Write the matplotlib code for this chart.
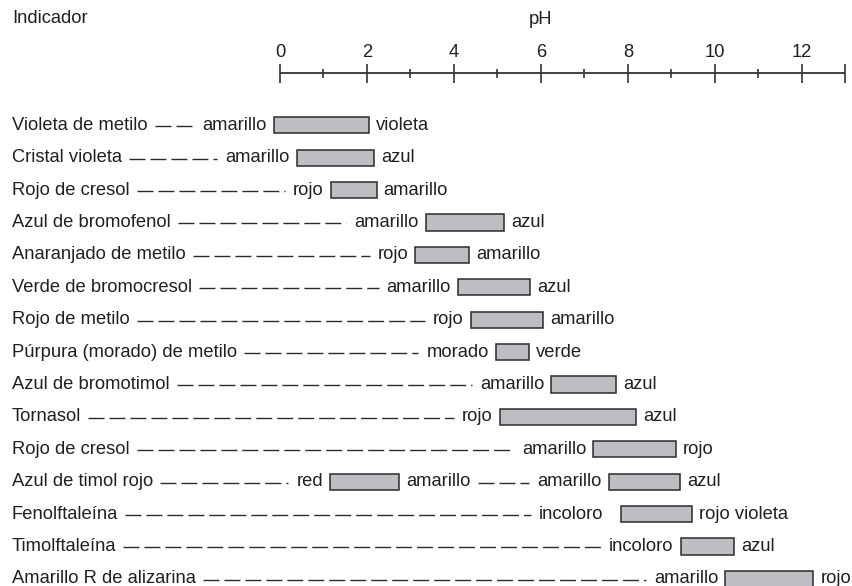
"""
Indicadores ácido-base: intervalo de viraje de pH
"""
import matplotlib
matplotlib.use('Agg')
import matplotlib.pyplot as plt
import matplotlib.transforms as mtransforms
from matplotlib.patches import Rectangle

plt.rcParams['font.family'] = ['Liberation Sans', 'DejaVu Sans']

# datos
indicadores = ['Violeta de metilo', 'Cristal violeta', 'Rojo de cresol',
               'Azul de bromofenol', 'Anaranjado de metilo', 'Verde de bromocresol',
               'Rojo de metilo', 'Púrpura (morado) de metilo', 'Azul de bromotimol',
               'Tornasol', 'Rojo de cresol', 'Azul de timol rojo', 'Fenolftaleína',
               'Timolftaleína', 'Amarillo R de alizarina']

# un tramo por intervalo de viraje (el azul de timol tiene dos)
fila = [0, 1, 2, 3, 4, 5, 6, 7, 8, 9, 10, 11, 11, 12, 13, 14]
color_izq = ['amarillo', 'amarillo', 'rojo', 'amarillo', 'rojo', 'amarillo', 'rojo',
             'morado', 'amarillo', 'rojo', 'amarillo', 'red', 'amarillo', 'incoloro',
             'incoloro', 'amarillo']
ph_ini = [-0.14, 0.38, 1.17, 3.35, 3.11, 4.09, 4.39, 4.96, 6.24, 5.05, 7.20,
          1.15, 7.56, 7.83, 9.21, 10.24]
ph_fin = [2.05, 2.16, 2.22, 5.16, 4.34, 5.75, 6.05, 5.73, 7.72, 8.18, 9.10,
          2.74, 9.20, 9.47, 10.44, 12.26]
color_der = ['violeta', 'azul', 'amarillo', 'azul', 'amarillo', 'azul', 'amarillo',
             'verde', 'azul', 'azul', 'rojo', 'amarillo', 'azul', 'rojo violeta',
             'azul', 'rojo']

ph_mayores = [0, 2, 4, 6, 8, 10, 12]
ph_menores = [1, 3, 5, 7, 9, 11]
ph_max = 13

TXT = '#231f20'
FS = 13.2
W, H = 853, 586
PX_PH = 43.5      # pixeles por unidad de pH
PX_FILA = 32.4    # pixeles por fila

fig = plt.figure(figsize=(W / 100, H / 100), dpi=100)
ax = fig.add_axes([0, 0, 1, 1])
x0 = -280 / PX_PH
y0 = -125.3 / PX_FILA
ax.set_xlim(x0, x0 + W / PX_PH)
ax.set_ylim(y0 + H / PX_FILA, y0)
ax.axis('off')

# eje de pH
eje_y = -1.605
ax.plot([0, ph_max], [eje_y, eje_y], color='#333333', lw=1.3, solid_capstyle='butt')
ax.vlines(ph_mayores + [ph_max], eje_y - 0.29, eje_y + 0.29, color='#333333', lw=1.2)
ax.vlines(ph_menores, eje_y - 0.14, eje_y + 0.14, color='#333333', lw=1.2)
for v in ph_mayores:
    ax.text(v, -2.26, str(v), ha='center', va='center', fontsize=FS, color=TXT)
ax.text(6, -3.27, 'pH', ha='center', va='center', fontsize=FS, color=TXT)

izq_tr = mtransforms.blended_transform_factory(ax.transAxes, ax.transData)
ax.text(12 / W, -3.31, 'Indicador', ha='left', va='center', fontsize=FS, color=TXT,
        transform=izq_tr)

renderer = fig.canvas.get_renderer()
inv = ax.transData.inverted()

# nombres
fin_previo = {}
for i, nombre in enumerate(indicadores):
    t = ax.text(12 / W, i, nombre, ha='left', va='center', fontsize=FS, color=TXT,
                transform=izq_tr)
    fin_previo[i] = t.get_window_extent(renderer).x1

sep_izq = {12: 17}
lw_d = 1.0
dashes = (11.5 / lw_d, 3.6 / lw_d)

orden = sorted(range(len(fila)), key=lambda k: (fila[k], ph_ini[k]))
for k in orden:
    r = fila[k]
    alto = 0.494
    ax.add_patch(Rectangle((ph_ini[k], r - alto / 2), ph_fin[k] - ph_ini[k], alto,
                           facecolor='#bdbec1', edgecolor='#2b2b2b', lw=1.1, zorder=3))
    gap = sep_izq.get(r, 7)
    tl = ax.text(ph_ini[k], r, color_izq[k], ha='right', va='center', fontsize=FS,
                 color=TXT,
                 transform=mtransforms.offset_copy(ax.transData, fig, x=-gap, y=0,
                                                   units='dots'))
    tr = ax.text(ph_fin[k], r, color_der[k], ha='left', va='center', fontsize=FS,
                 color=TXT,
                 transform=mtransforms.offset_copy(ax.transData, fig, x=7, y=0,
                                                   units='dots'))
    bl = tl.get_window_extent(renderer)
    # trazo discontinuo entre el texto anterior y el color de la izquierda
    xa = fin_previo[r] + 7
    xb = bl.x0 - 8
    if xb > xa:
        da = inv.transform((xa, 0))[0]
        db = inv.transform((xb, 0))[0]
        ax.plot([da, db], [r + 0.03, r + 0.03], color='#2b2b2b', lw=lw_d,
                dashes=dashes, solid_capstyle='butt', dash_capstyle='butt')
    fin_previo[r] = tr.get_window_extent(renderer).x1

fig.savefig('out.png', dpi=100)
plt.close(fig)
